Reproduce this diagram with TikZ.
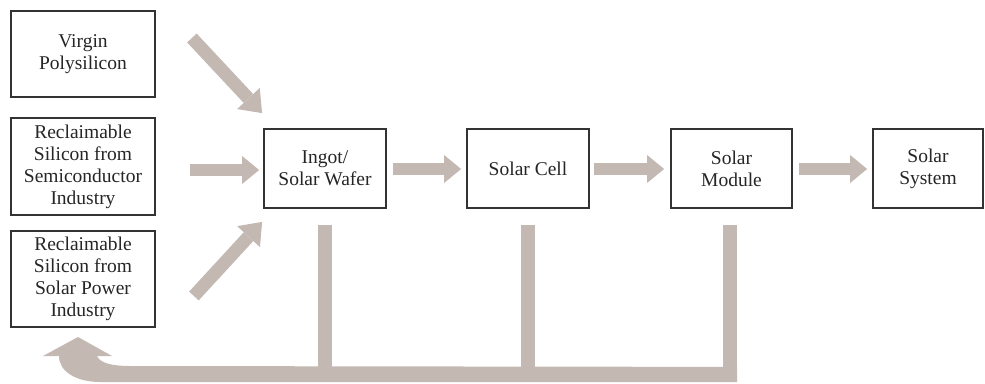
\documentclass[tikz,border=0pt]{standalone}
\usepackage{fontspec}
\setmainfont{Liberation Serif}
\usetikzlibrary{arrows.meta,calc}
\definecolor{arr}{HTML}{C4B8B2}
\definecolor{edge}{HTML}{333333}
\begin{document}
\begin{tikzpicture}[x=1pt,y=-1pt,
  box/.style={draw=edge, line width=1.8pt, fill=white, align=center, inner sep=0pt,
              font=\fontsize{19.5}{22}\selectfont, text=black!85},
  flow/.style={draw=arr, line width=12pt, -{Triangle[length=17pt,width=28pt,line width=0pt]}},
  dflow/.style={draw=arr, line width=13pt, -{Triangle[length=20pt,width=31pt,line width=0pt]}},
  back/.style={draw=arr, line width=14pt}
  ]
\useasboundingbox (0,0) rectangle (985,383);

% source boxes
\node[box, minimum width=144pt, minimum height=86pt] (v) at (83,54) {Virgin\\Polysilicon};
\node[box, minimum width=144pt, minimum height=97pt] (s) at (83,166.5) {Reclaimable\\Silicon from\\Semiconductor\\Industry};
\node[box, minimum width=144pt, minimum height=96pt] (p) at (83,279) {Reclaimable\\Silicon from\\Solar Power\\Industry};

% chain boxes
\node[box, minimum width=122pt, minimum height=79pt] (ingot) at (325,168.5) {Ingot/\\Solar Wafer};
\node[box, minimum width=122pt, minimum height=79pt] (cell) at (528,168.5) {Solar Cell};
\node[box, minimum width=121pt, minimum height=79pt] (module) at (731.5,168.5) {Solar\\Module};
\node[box, minimum width=110pt, minimum height=79pt] (system) at (928,168.5) {Solar\\System};

% input arrows
\draw[dflow] ($(v.east)+(36,-16)$) -- ($(ingot.north west)+(-1,-15)$);
\draw[flow] ($(s.east)+(34,3.5)$) -- ($(ingot.west)+(-4,1.5)$);
\draw[dflow] ($(p.east)+(38,17)$) -- ($(ingot.south west)+(-1,13)$);

% chain arrows
\draw[flow] (ingot.east) ++(6,0.5) -- ($(cell.west)+(-5,0.5)$);
\draw[flow] (cell.east) ++(4,0.5) -- ($(module.west)+(-6,0.5)$);
\draw[flow] (module.east) ++(6,0.5) -- ($(system.west)+(-5,0.5)$);

% feedback bars
\draw[back] ($(ingot.south)+(0,16)$) -- ($(ingot.south)+(0,166)$);
\draw[back] ($(cell.south)+(0,16)$) -- ($(cell.south)+(0,166)$);
\draw[back] ($(module.south)+(-1.5,16)$) -- ($(module.south)+(-1.5,166)$);

% return arrow
\coordinate (rR) at ($(module.south)+(5.5,158)$);
\coordinate (rL) at ($(p.south)+(-5,30)$);
\fill[arr] (rR) -- (130,366) .. controls (112,366) and (100,363) .. (97,356)
  -- (112,356) -- (78,337) -- (43,356) -- (59,356)
  .. controls (59,372) and (77,382) .. (100,382) -- (rR |- 0,382) -- cycle;
\end{tikzpicture}
\end{document}
